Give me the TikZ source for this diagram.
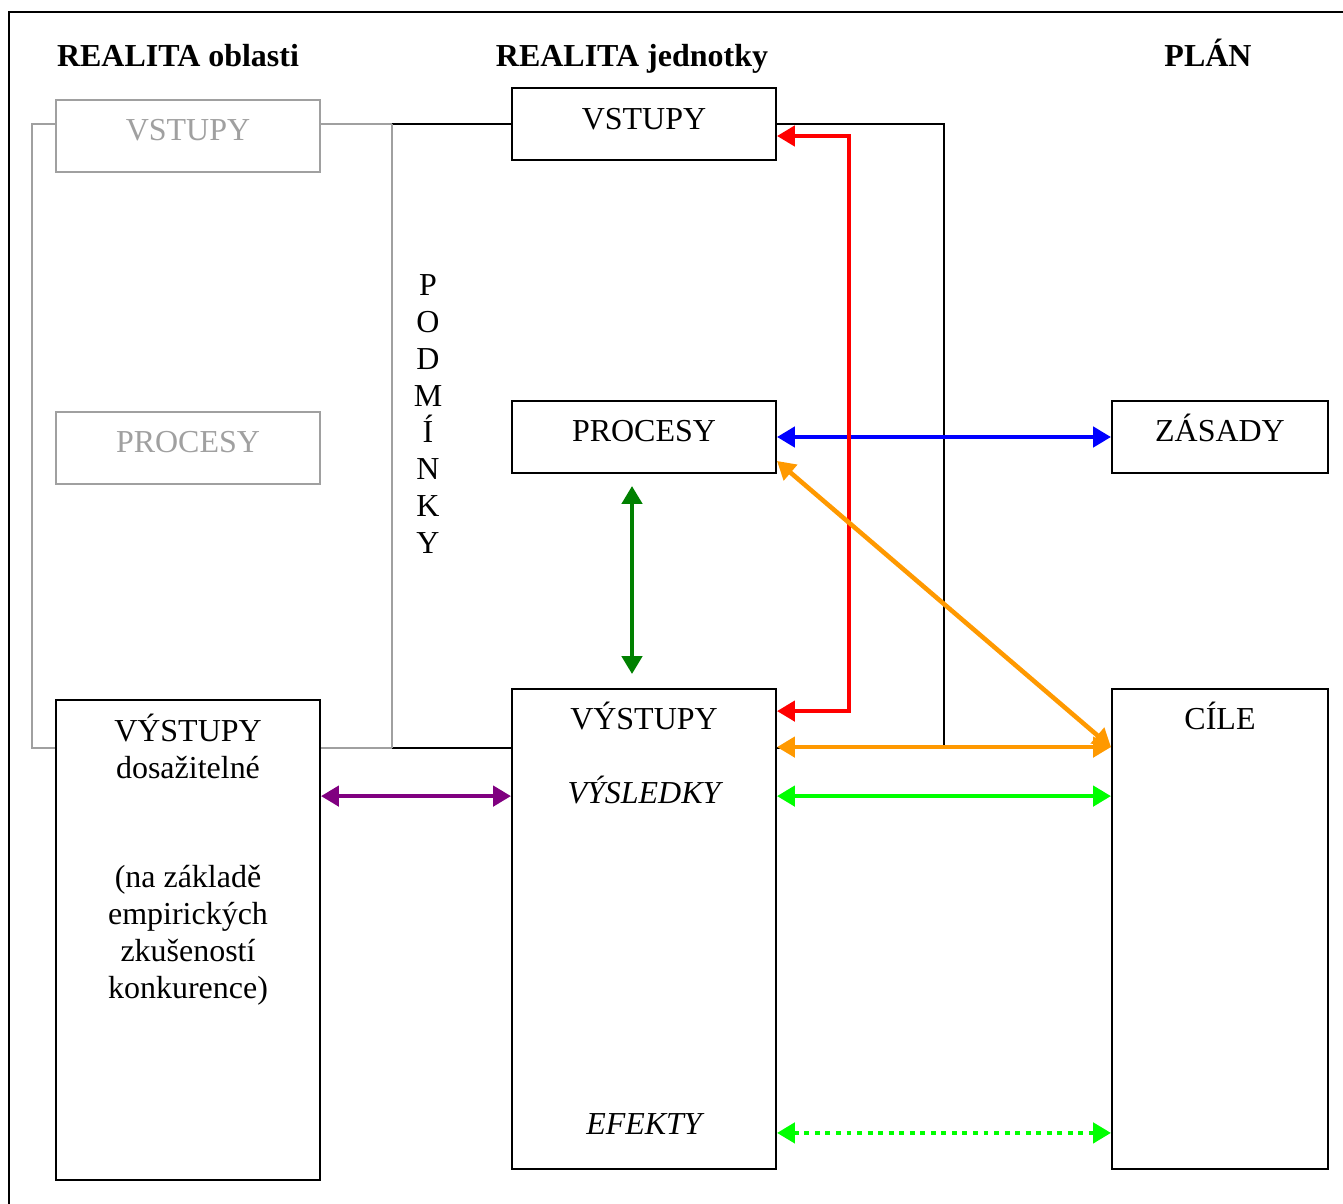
\documentclass[tikz,border=0pt]{standalone}
\usepackage{fontspec}
\setmainfont{Liberation Serif}
\usepackage{tikz}
\usetikzlibrary{arrows.meta}
\usetikzlibrary{calc}
\usetikzlibrary{positioning}
\definecolor{dgreen}{RGB}{0,128,0}
\definecolor{orng}{RGB}{255,153,0}
\definecolor{brightgreen}{RGB}{0,255,0}
\definecolor{purp}{RGB}{128,0,128}
\definecolor{lightline}{RGB}{160,160,160}
\tikzset{box/.style = {draw, line width=1.1pt, fill=white, inner sep=0pt,
                       minimum width=5.28cm, minimum height=1.44cm},
         gbox/.style = {box, draw=lightline},
         txt/.style = {font=\fontsize{18.2}{21}\selectfont, anchor=base, inner sep=0pt},
         gtxt/.style = {txt, text=lightline},
         heading/.style = {txt, font=\fontsize{18.2}{21}\selectfont\bfseries},
         link/.style = {line width=2.6pt,
                        {Triangle[length=0.36cm, width=0.4cm]}-{Triangle[length=0.36cm, width=0.4cm]}}}

\begin{document}
\begin{tikzpicture}[x=0.02cm, y=-0.02cm]
    \useasboundingbox (0, 0) rectangle (1343, 1204);
    \draw [line width=1.1pt] (9, 1230) -- (9, 12) -- (1370, 12);

    \draw [line width=1.1pt, lightline] (392, 124) -- (32, 124) -- (32, 748) -- (392, 748);
    \draw [line width=1.1pt] (392, 748) -- (944, 748) -- (944, 124) -- (392, 124);
    \draw [line width=1.1pt, lightline] (392, 124) -- (392, 748);

    \node [gbox] (oVst) at (188, 136) {};
    \node [gbox] (oPro) at (188, 448) {};
    \node [box, minimum height=9.6cm] (oVys) at (188, 940) {};
    \node [box] (jVst) at (644, 124) {};
    \node [box] (jPro) at (644, 437) {};
    \node [box, minimum height=9.6cm] (jVys) at (644, 929) {};
    \node [box, minimum width=4.32cm] (zas) at (1220, 437) {};
    \node [box, minimum width=4.32cm, minimum height=9.6cm] (cil) at (1220, 929) {};

    \node [heading] (hOblast) at (178, 66) {REALITA oblasti};
    \node [heading] (hJednotka) at (632, 66) {REALITA jednotky};
    \node [heading] (hPlan) at (1208, 66) {PLÁN};

    \node [gtxt] (oVstT) at (188, 140) {VSTUPY};
    \node [gtxt] (oProT) at (188, 452) {PROCESY};
    \node [txt, align=center] (oVysT) at (188, 998)
        {VÝSTUPY\\dosažitelné\\[41pt](na základě\\empirických\\zkušeností\\konkurence)};
    \node [txt] (jVstT) at (644, 129) {VSTUPY};
    \node [txt] (jProT) at (644, 441) {PROCESY};
    \node [txt] (jVysT) at (644, 729) {VÝSTUPY};
    \node [txt, font=\fontsize{18.2}{21}\selectfont\itshape] (jVysl) at (644, 803) {VÝSLEDKY};
    \node [txt, font=\fontsize{18.2}{21}\selectfont\itshape] (jEfekt) at (644, 1134) {EFEKTY};
    \node [txt] (zasT) at (1220, 441) {ZÁSADY};
    \node [txt] (cilT) at (1220, 729) {CÍLE};
    \node [txt, anchor=center, align=center] (podm) at (428, 414) {P\\O\\D\\M\\Í\\N\\K\\Y};

    \draw [link, blue] (jPro.east) -- (zas.west);
    \draw [link, red] ($(jVst.east) + (0, 12)$) -- ++(72, 0) |- ($(jVys.north east) + (0, 23)$);
    \draw [link, dgreen] ($(jPro.south) + (-12, 12)$) -- ($(jVys.north) + (-12, -14)$);
    \draw [link, orng] ($(jPro.south east) + (0, -13)$) -- ($(cil.north west) + (0, 59)$);
    \draw [link, orng] ($(jVys.north east) + (0, 59)$) -- ($(cil.north west) + (0, 59)$);
    \draw [link, brightgreen] ($(jVys.north east) + (0, 108)$) -- ($(cil.north west) + (0, 108)$);
    \draw [link, brightgreen, dash pattern=on 2.8pt off 3.2pt]
        ($(jVys.south east) + (0, -37)$) -- ($(cil.south west) + (0, -37)$);
    \draw [link, purp] ($(oVys.north east) + (0, 97)$) -- ($(jVys.north west) + (0, 108)$);
\end{tikzpicture}
\end{document}
